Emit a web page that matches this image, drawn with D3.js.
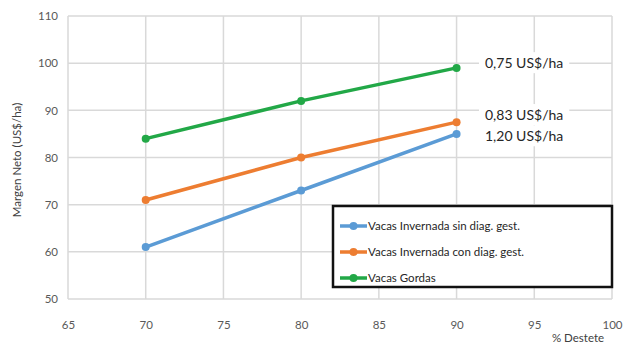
<!DOCTYPE html>
<html><head><meta charset="utf-8">
<script src="https://cdn.jsdelivr.net/npm/d3@7"></script>
<style>body{margin:0;background:#fff}svg{display:block}text{font-family:Lato,"Liberation Sans",sans-serif}</style>
</head><body><svg id="c" width="626" height="350"></svg>
<script>
const xCats = [70, 80, 90];
const seriesNames = ["Vacas Invernada sin diag. gest.", "Vacas Invernada con diag. gest.", "Vacas Gordas"];
const sinDiag = [61, 73, 85];
const conDiag = [71, 80, 87.5];
const gordas = [84, 92, 99];
const colors = ["#5b9bd5", "#ed7d31", "#22a847"];
const xTicks = [65, 70, 75, 80, 85, 90, 95, 100];
const yTicks = [50, 60, 70, 80, 90, 100, 110];
const annotations = ["0,75 US$/ha", "0,83 US$/ha", "1,20 US$/ha"];
const annY = [100, 89, 84.5];

const svg = d3.select("#c");
const x = d3.scaleLinear().domain([65, 100]).range([68, 612]);
const y = d3.scaleLinear().domain([50, 110]).range([299, 16]);

// grid
svg.append("g").selectAll("line").data(yTicks).join("line")
  .attr("x1", x(65)).attr("x2", x(100)).attr("y1", d => y(d)).attr("y2", d => y(d))
  .attr("stroke", "#d9d9d9").attr("stroke-width", 1.5);
svg.append("g").selectAll("line").data(xTicks).join("line")
  .attr("x1", d => x(d)).attr("x2", d => x(d)).attr("y1", y(50)).attr("y2", y(110))
  .attr("stroke", "#d9d9d9").attr("stroke-width", 1.5);

// axes labels
const yAxis = d3.axisLeft(y).tickValues(yTicks).tickSize(0).tickPadding(10);
const gy = svg.append("g").attr("transform", `translate(${x(65)},0)`).call(yAxis);
gy.select(".domain").remove();
gy.selectAll("text").attr("fill", "#595959").style("font-size", "11.5px");
const xAxis = d3.axisBottom(x).tickValues(xTicks).tickSize(0).tickPadding(22);
const gx = svg.append("g").attr("transform", `translate(0,${y(50)})`).call(xAxis);
gx.select(".domain").remove();
gx.selectAll("text").attr("fill", "#595959").style("font-size", "11.5px");

svg.append("text").attr("transform", "translate(21,160) rotate(-90)")
  .attr("text-anchor", "middle").attr("fill", "#404040").style("font-size", "11.5px")
  .text("Margen Neto (US$/ha)");
svg.append("text").attr("x", 578).attr("y", 342).attr("text-anchor", "middle")
  .attr("fill", "#404040").style("font-size", "11.5px").text("% Destete");

// lines
const all = [sinDiag, conDiag, gordas];
const line = d3.line().x((d, i) => x(xCats[i])).y(d => y(d));
all.forEach((vals, k) => {
  svg.append("path").datum(vals).attr("d", line).attr("fill", "none")
    .attr("stroke", colors[k]).attr("stroke-width", 3.5);
  svg.append("g").selectAll("circle").data(vals).join("circle")
    .attr("cx", (d, i) => x(xCats[i])).attr("cy", d => y(d)).attr("r", 4)
    .attr("fill", colors[k]);
});

// annotations
annotations.forEach((t, i) => {
  const tx = svg.append("text").attr("x", 485).attr("y", y(annY[i]) + 5)
    .attr("fill", "#262626").style("font-size", "14px").text(t);
  const bb = tx.node().getBBox();
  svg.insert("rect", () => tx.node()).attr("x", bb.x - 6).attr("y", bb.y - 2)
    .attr("width", bb.width + 12).attr("height", bb.height + 4).attr("fill", "#fff");
});

// legend
const lg = svg.append("g").attr("transform", "translate(333,206)");
lg.append("rect").attr("width", 279).attr("height", 81).attr("fill", "#fff")
  .attr("stroke", "#111").attr("stroke-width", 2.5);
seriesNames.forEach((n, i) => {
  const yy = 20 + i * 26;
  lg.append("line").attr("x1", 7).attr("x2", 34).attr("y1", yy).attr("y2", yy)
    .attr("stroke", colors[i]).attr("stroke-width", 3.5);
  lg.append("circle").attr("cx", 20.5).attr("cy", yy).attr("r", 4).attr("fill", colors[i]);
  lg.append("text").attr("x", 35).attr("y", yy + 4).attr("fill", "#262626")
    .style("font-size", "11.5px").text(n);
});
</script></body></html>
